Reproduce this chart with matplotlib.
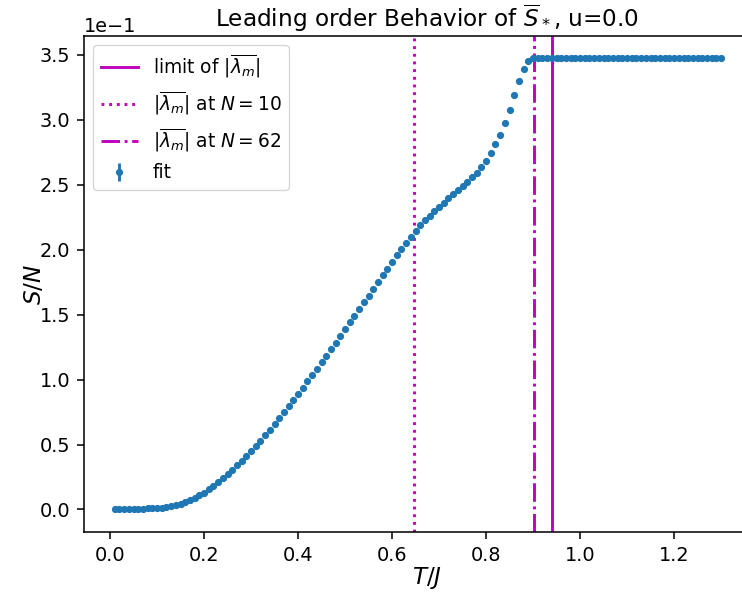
import numpy as np
import matplotlib
matplotlib.use("Agg")
import matplotlib.pyplot as plt

# Temperatures T/J
T = [round(0.01 * i, 2) for i in range(1, 131)]

# S/N values in units of 1e-1
s_scaled = [
    0.000, 0.001, 0.002, 0.003, 0.004, 0.005, 0.006, 0.008, 0.010, 0.012,   # 0.01-0.10
    0.015, 0.019, 0.025, 0.032, 0.042, 0.055, 0.071, 0.089, 0.109, 0.130,   # 0.11-0.20
    0.155, 0.182, 0.210, 0.240, 0.272, 0.305, 0.340, 0.375, 0.410, 0.450,   # 0.21-0.30
    0.490, 0.530, 0.570, 0.615, 0.660, 0.705, 0.752, 0.796, 0.842, 0.889,   # 0.31-0.40
    0.937, 0.987, 1.033, 1.082, 1.134, 1.182, 1.234, 1.283, 1.335, 1.386,   # 0.41-0.50
    1.440, 1.491, 1.540, 1.594, 1.646, 1.698, 1.752, 1.803, 1.855, 1.906,   # 0.51-0.60
    1.958, 2.007, 2.053, 2.100, 2.143, 2.187, 2.226, 2.262, 2.298, 2.331,   # 0.61-0.70
    2.362, 2.396, 2.429, 2.458, 2.491, 2.522, 2.556, 2.594, 2.638, 2.684,   # 0.71-0.80
    2.745, 2.810, 2.885, 2.975, 3.078, 3.189, 3.297, 3.390, 3.452, 3.472,   # 0.81-0.90
] + [3.472] * 40                                                           # 0.91-1.30
s_err = [0.0] * 130

lim_lambda = 0.941
lambda_N10 = 0.647
lambda_N62 = 0.901

S = np.array(s_scaled) * 1e-1
Serr = np.array(s_err) * 1e-1

s = 1.39  # scale factor of the reference rendering
plt.rcParams.update({
    'axes.linewidth': 0.8 * s,
    'xtick.major.width': 0.8 * s, 'ytick.major.width': 0.8 * s,
    'xtick.major.size': 3.5 * s, 'ytick.major.size': 3.5 * s,
    'xtick.major.pad': 3.5 * s, 'ytick.major.pad': 3.5 * s,
    'axes.titlepad': 6.5,
    'legend.fontsize': 13.4,
})

fig = plt.figure(figsize=(7.42, 5.96), dpi=100)
ax = fig.add_axes([84 / 742, (596 - 532) / 596, 686 / 742, 496 / 596])

ax.axvline(lim_lambda, color='m', ls='-', lw=1.5 * s, label=r'limit of $|\overline{\lambda_m}|$')
ax.axvline(lambda_N10, color='m', ls=':', lw=1.5 * s, label=r'$|\overline{\lambda_m}|$ at $N=10$')
ax.axvline(lambda_N62, color='m', ls='-.', lw=1.5 * s, label=r'$|\overline{\lambda_m}|$ at $N=62$')
ax.errorbar(T, S, yerr=Serr, fmt='o', color='#1f77b4', markersize=3 * s,
            elinewidth=1.5 * s, label='fit')

ax.set_xlim(-0.0553, 1.404)
ax.set_ylim(-0.01735, 0.3645)
ax.ticklabel_format(axis='y', style='sci', scilimits=(0, 0))
ax.set_yticks(np.arange(0, 0.36, 0.05))
ax.set_xticks([0.0, 0.2, 0.4, 0.6, 0.8, 1.0, 1.2])
ax.tick_params(labelsize=10 * s)
ax.yaxis.get_offset_text().set_fontsize(10 * s)

ax.set_title(r'Leading order Behavior of $\overline{S}_*$, u=0.0', fontsize=12 * s)
ax.set_xlabel(r'$T/J$', fontsize=12 * s, labelpad=0.5)
ax.set_ylabel(r'$S/N$', fontsize=12 * s, labelpad=-4.5)
ax.legend(loc='upper left')

fig.savefig('out.png', dpi=100)
